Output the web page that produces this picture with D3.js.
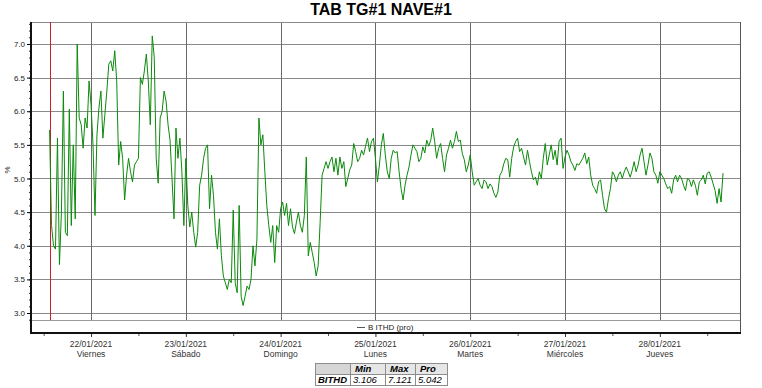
<!DOCTYPE html>
<html>
<head>
<meta charset="utf-8">
<script src="https://cdn.jsdelivr.net/npm/d3@7"></script>
<style>
  body { margin: 0; background: #fff; }
  svg { font-family: "Liberation Sans", Arial, sans-serif; }
</style>
</head>
<body>
<svg id="chart" width="762" height="388"></svg>
<script>
// Chart data
const title = "TAB TG#1 NAVE#1";
const seriesName = "B ITHD (pro)";
const yLabel = "%";
const startTime = new Date(2021, 0, 21, 13, 30);   // first sample
const stepMinutes = 30;                              // sample interval
const markerTime = new Date(2021, 0, 21, 13, 15);   // red cursor line

// ITHD (%) every 30 minutes
const thd = [
  5.72, 4.3, 4.0, 3.95, 5.6, 3.72, 4.5, 6.3, 4.2, 4.15,
  6.03, 4.3, 5.5, 4.4, 7.0, 5.9, 5.8, 5.45, 5.9, 5.75,
  6.45, 6.1, 5.5, 4.45, 5.65, 6.05, 6.3, 5.6, 5.95, 6.3,
  6.7, 6.75, 6.6, 6.9, 6.45, 5.2, 5.55, 5.3, 4.68, 5.05,
  5.3, 5.1, 4.95, 5.2, 5.25, 5.3, 6.5, 6.4, 6.6, 6.85,
  6.45, 5.8, 7.12, 6.8, 5.3, 4.93, 5.9, 6.0, 6.3, 6.15,
  5.8, 5.57, 5.0, 4.4, 5.75, 5.3, 5.6, 5.1, 4.3, 5.3,
  4.6, 4.28, 4.5, 4.2, 3.98, 4.2, 4.9, 5.05, 5.3, 5.45,
  5.5, 4.55, 5.05, 4.75, 4.2, 3.95, 4.4, 3.85, 3.55, 3.45,
  3.35, 3.5, 3.45, 4.53, 3.45, 3.3, 4.6, 3.25, 3.11, 3.25,
  3.4, 3.35, 3.5, 4.0, 3.7, 4.1, 5.9, 5.5, 5.65, 5.1,
  4.6, 4.3, 4.05, 4.3, 3.75, 4.3, 4.2, 4.55, 4.65, 4.45,
  4.63, 4.3, 4.55, 4.28, 4.18, 4.35, 4.5, 4.3, 4.2, 4.45,
  5.32, 3.85, 4.05, 3.9, 3.75, 3.55, 3.7, 4.35, 5.05, 5.15,
  5.25, 5.15, 5.25, 5.32, 5.1, 5.3, 5.05, 5.32, 5.15, 5.25,
  4.88, 5.0, 5.13, 5.2, 5.52, 5.4, 5.25, 5.3, 5.42, 5.35,
  5.48, 5.6, 5.4, 5.55, 5.6, 5.3, 4.95, 5.2, 5.5, 5.67,
  5.35, 5.1, 5.0, 5.3, 5.42, 5.38, 5.4, 5.1, 4.85, 4.68,
  4.9, 5.05, 5.17, 5.35, 5.5, 5.45, 5.4, 5.25, 5.3, 5.47,
  5.38, 5.57, 5.48, 5.57, 5.75, 5.55, 5.3, 5.45, 5.52, 5.3,
  5.1, 5.35, 5.45, 5.57, 5.45, 5.55, 5.7, 5.55, 5.57, 5.37,
  5.28, 5.1, 5.2, 5.35, 5.1, 4.9, 4.95, 5.0, 4.9, 4.85,
  4.98, 4.95, 4.85, 4.92, 4.88, 4.78, 4.72, 4.8, 5.05, 5.1,
  5.22, 5.3, 5.28, 5.02, 5.3, 5.47, 5.55, 5.6, 5.4, 5.45,
  5.32, 5.2, 5.42, 5.25, 5.1, 4.98, 5.02, 4.9, 5.1, 5.0,
  5.3, 5.52, 5.2, 5.35, 5.5, 5.28, 5.42, 5.2, 5.55, 5.6,
  5.15, 5.32, 5.42, 5.35, 5.25, 5.2, 5.12, 5.22, 5.2, 5.25,
  5.3, 5.38, 5.22, 5.32, 5.05, 4.9, 4.85, 4.78, 4.95, 4.98,
  4.75, 4.55, 4.5, 4.7, 4.85, 5.1, 5.05, 4.95, 5.05, 5.1,
  5.0, 5.1, 5.17, 5.1, 5.02, 5.12, 5.25, 5.1, 5.2, 5.35,
  5.45, 5.25, 5.05, 5.2, 5.38, 5.3, 5.1, 5.05, 4.93, 5.1,
  5.05, 5.0, 4.92, 4.85, 4.88, 4.78, 4.98, 5.05, 4.95, 5.05,
  5.0, 4.9, 4.82, 5.0, 4.98, 4.88, 4.98, 4.9, 4.75, 4.95,
  4.98, 5.05, 4.92, 5.08, 5.1, 5.02, 4.92, 4.82, 4.63, 4.85,
  4.65, 5.08
];

const dayTicks = ["2021-01-22", "2021-01-23", "2021-01-24", "2021-01-25", "2021-01-26", "2021-01-27", "2021-01-28"];
const dayNames = ["Viernes", "Sábado", "Domingo", "Lunes", "Martes", "Miércoles", "Jueves"];
const yTicks = [3.0, 3.5, 4.0, 4.5, 5.0, 5.5, 6.0, 6.5, 7.0];

const statLabel = "BITHD";
const statHeaders = ["Min", "Max", "Pro"];
const statValues = ["3.106", "7.121", "5.042"];

// Layout
const width = 762, height = 388;
const plot = { left: 31, right: 740, top: 22, gridBottom: 320, axisY: 333 };

const svg = d3.select("#chart");

const parseDay = d3.timeParse("%Y-%m-%d");
const ticks = dayTicks.map(parseDay);
const points = thd.map((v, i) => ({ t: d3.timeMinute.offset(startTime, i * stepMinutes), v }));

const x = d3.scaleTime()
            .domain([new Date(2021, 0, 21, 8, 48), new Date(2021, 0, 28, 20, 18)])
            .range([plot.left, plot.right]);

const y = d3.scaleLinear()
            .domain([2.896, 7.327])
            .range([plot.gridBottom, plot.top]);

const crisp = v => Math.round(v) + 0.5;

// Title
svg.append("text")
   .attr("x", 381)
   .attr("y", 15)
   .attr("text-anchor", "middle")
   .style("font-size", "16px")
   .style("font-weight", "bold")
   .text(title);

// Horizontal grid
svg.append("g")
   .selectAll("line")
   .data(yTicks)
   .join("line")
   .attr("x1", plot.left)
   .attr("x2", plot.right)
   .attr("y1", d => crisp(y(d)))
   .attr("y2", d => crisp(y(d)))
   .attr("stroke", "#8a8a8a");

// Vertical grid (midnights)
svg.append("g")
   .selectAll("line")
   .data(ticks)
   .join("line")
   .attr("x1", d => crisp(x(d)))
   .attr("x2", d => crisp(x(d)))
   .attr("y1", plot.top)
   .attr("y2", plot.gridBottom)
   .attr("stroke", "#6a6a6a");

// Frame: top, right, grid bottom
svg.append("line")
   .attr("x1", plot.left).attr("x2", plot.right)
   .attr("y1", plot.top + 0.5).attr("y2", plot.top + 0.5)
   .attr("stroke", "#8a8a8a");
svg.append("line")
   .attr("x1", plot.right + 0.5).attr("x2", plot.right + 0.5)
   .attr("y1", plot.top).attr("y2", plot.axisY)
   .attr("stroke", "#555");
svg.append("line")
   .attr("x1", plot.left).attr("x2", plot.right)
   .attr("y1", plot.gridBottom + 0.5).attr("y2", plot.gridBottom + 0.5)
   .attr("stroke", "#9a9a9a");

// Red cursor line
svg.append("line")
   .attr("x1", crisp(x(markerTime)) + 1)
   .attr("x2", crisp(x(markerTime)) + 1)
   .attr("y1", plot.top)
   .attr("y2", plot.gridBottom)
   .attr("stroke", "#c8202a");

// Series line
const line = d3.line()
               .x(d => x(d.t))
               .y(d => y(d.v));

svg.append("path")
   .datum(points)
   .attr("fill", "none")
   .attr("stroke", "#0b8a0b")
   .attr("stroke-width", 1)
   .attr("stroke-linejoin", "round")
   .attr("d", line);

// Legend strip
svg.append("line")
   .attr("x1", 357).attr("x2", 365)
   .attr("y1", 327.5).attr("y2", 327.5)
   .attr("stroke", "#555");
svg.append("text")
   .attr("x", 368)
   .attr("y", 330)
   .style("font-size", "8px")
   .attr("fill", "#222")
   .text(seriesName);

// Y axis: minor ticks every 0.1
const yMinor = d3.range(29, 74).map(d => d / 10);
svg.append("g")
   .attr("transform", `translate(${plot.left}, 0)`)
   .call(d3.axisLeft(y).tickValues(yMinor).tickSize(2).tickFormat(""))
   .call(g => g.select(".domain").remove())
   .selectAll("line").attr("stroke", "#333");

const yAxis = svg.append("g")
   .attr("transform", `translate(${plot.left}, 0)`)
   .call(d3.axisLeft(y).tickValues(yTicks).tickSize(4).tickPadding(2).tickFormat(d3.format(".1f")));
yAxis.select(".domain").remove();
yAxis.selectAll("text").style("font-size", "8px").attr("fill", "#222").style("font-family", "'Liberation Sans', Arial, sans-serif");

svg.append("line")
   .attr("x1", plot.left).attr("x2", plot.left)
   .attr("y1", plot.top).attr("y2", plot.axisY + 1)
   .attr("stroke", "#111")
   .attr("stroke-width", 2);

// Y label
svg.append("text")
   .attr("transform", "translate(10, 170) rotate(-90)")
   .attr("text-anchor", "middle")
   .style("font-size", "8px")
   .attr("fill", "#222")
   .text(yLabel);

// X axis
const noonTicks = ticks.map(d => d3.timeHour.offset(d, -12)).concat([d3.timeHour.offset(ticks[ticks.length - 1], 12)]);
svg.append("g")
   .attr("transform", `translate(0, ${plot.axisY})`)
   .call(d3.axisBottom(x).tickValues(noonTicks).tickSize(3).tickFormat(""))
   .call(g => g.select(".domain").remove())
   .selectAll("line").attr("stroke", "#555");

const xAxis = svg.append("g")
   .attr("transform", `translate(0, ${plot.axisY})`)
   .call(d3.axisBottom(x).tickValues(ticks).tickSize(4).tickFormat(""));
xAxis.select(".domain").remove();
xAxis.selectAll("line").attr("stroke", "#333");

svg.append("line")
   .attr("x1", plot.left).attr("x2", plot.right + 1)
   .attr("y1", plot.axisY).attr("y2", plot.axisY)
   .attr("stroke", "#111")
   .attr("stroke-width", 2);

const labels = svg.append("g")
   .selectAll("text")
   .data(ticks)
   .join("text")
   .attr("text-anchor", "middle")
   .style("font-size", "8.5px")
   .attr("fill", "#333");
labels.append("tspan")
   .attr("x", d => x(d))
   .attr("y", 347)
   .text(d3.timeFormat("%d/%m/%Y"));
labels.append("tspan")
   .attr("x", d => x(d))
   .attr("y", 357)
   .text((d, i) => dayNames[i]);

// Stats table
const colX = [315, 350, 385, 415, 447];
const rowY = [363, 374, 385];
const table = svg.append("g");

table.append("rect")
     .attr("x", colX[0]).attr("y", rowY[0])
     .attr("width", colX[4] - colX[0]).attr("height", rowY[1] - rowY[0])
     .attr("fill", "#e6e6e6");
table.append("rect")
     .attr("x", colX[0]).attr("y", rowY[0])
     .attr("width", colX[1] - colX[0]).attr("height", rowY[1] - rowY[0])
     .attr("fill", "#d6d6d6");

colX.forEach(cx => {
  table.append("line")
       .attr("x1", cx + 0.5).attr("x2", cx + 0.5)
       .attr("y1", rowY[0]).attr("y2", rowY[2])
       .attr("stroke", "#8c8c8c");
});
rowY.forEach(ry => {
  table.append("line")
       .attr("x1", colX[0]).attr("x2", colX[4] + 1)
       .attr("y1", ry + 0.5).attr("y2", ry + 0.5)
       .attr("stroke", "#8c8c8c");
});

statHeaders.forEach((h, i) => {
  table.append("text")
       .attr("x", colX[i + 1] + 5)
       .attr("y", rowY[1] - 2)
       .style("font-size", "9.5px")
       .style("font-weight", "bold")
       .style("font-style", "italic")
       .text(h);
});
table.append("text")
     .attr("x", colX[0] + 3)
     .attr("y", rowY[2] - 2)
     .style("font-size", "9.5px")
     .style("font-weight", "bold")
     .style("font-style", "italic")
     .text(statLabel);
statValues.forEach((v, i) => {
  table.append("text")
       .attr("x", colX[i + 1] + 3)
       .attr("y", rowY[2] - 2)
       .style("font-size", "9.5px")
       .style("font-style", "italic")
       .text(v);
});
</script>
</body>
</html>
